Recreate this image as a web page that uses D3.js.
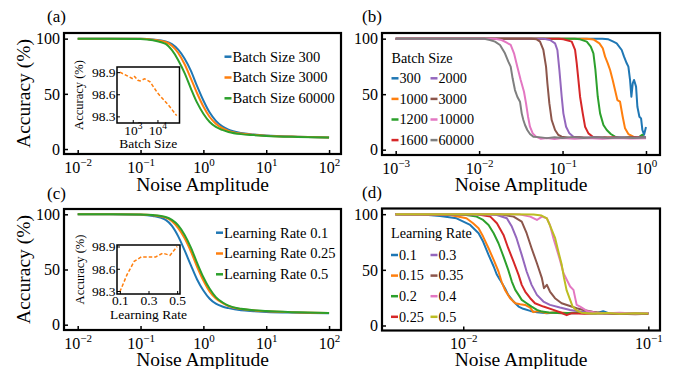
<!DOCTYPE html>
<html>
<head>
<meta charset="utf-8">
<script src="https://cdn.jsdelivr.net/npm/d3@7"></script>
<style>
  body { margin: 0; background: #fff; }
  svg, svg text { font-family: "Liberation Serif", "Times New Roman", serif; }
</style>
</head>
<body>
<svg id="fig" width="675" height="369"></svg>
<script>
// matplotlib tab10 colours
const palette = ["#1f77b4", "#ff7f0e", "#2ca02c", "#d62728", "#9467bd", "#8c564b", "#e377c2", "#7f7f7f", "#bcbd22"];

// ---------- (a) accuracy vs noise for three batch sizes ----------
const noiseGrid = [0.01, 0.0316, 0.1, 0.158, 0.251, 0.316, 0.398, 0.501, 0.631, 0.794, 1, 1.26, 1.58, 2, 2.51, 3.98, 6.31, 10, 31.6, 100];
const batchLabelsA = ["Batch Size 300", "Batch Size 3000", "Batch Size 60000"];
const accBatch300   = [100, 100, 99.8, 99.2, 97.5, 95, 90, 82, 71, 57, 44, 33, 25.5, 20.5, 17.5, 14.5, 13.2, 12.3, 11.2, 10.5];
const accBatch3000  = [100, 100, 99.8, 99, 97, 93.5, 87, 77, 64, 50.5, 38.5, 29, 23, 19, 16.5, 14, 12.9, 12.1, 11.1, 10.5];
const accBatch60000 = [100, 100, 99.6, 98.5, 95.2, 89.5, 80.5, 69, 55, 42, 32, 24.5, 20, 17.3, 15.5, 13.5, 12.6, 11.9, 11, 10.5];

// inset (a): clean accuracy vs batch size
const insetBatch = [300, 600, 1000, 1200, 1600, 2000, 3000, 5000, 10000, 30000, 60000];
const insetBatchAcc = [98.90, 98.85, 98.81, 98.84, 98.79, 98.78, 98.81, 98.77, 98.62, 98.44, 98.31];

// ---------- (c) accuracy vs noise for three learning rates ----------
const lrLabelsC = ["Learning Rate 0.1", "Learning Rate 0.25", "Learning Rate 0.5"];
const accLr01  = [100, 100, 99.6, 98.5, 95, 89.5, 80, 67.5, 54, 41, 31, 23.5, 19, 16.5, 15, 13, 12.2, 11.6, 10.9, 10.4];
const accLr025 = [100, 100, 99.8, 99.1, 97, 93.8, 87.5, 78.5, 66.5, 52.5, 40, 30, 23.8, 19.7, 16.8, 14.2, 13, 12.2, 11.1, 10.5];
const accLr05  = [100, 100, 99.8, 99.3, 97.6, 95, 90, 81.5, 70, 56, 43, 32.5, 25, 20.3, 17.2, 14.4, 13.1, 12.3, 11.2, 10.5];

// inset (c): clean accuracy vs learning rate
const insetLr = [0.1, 0.15, 0.2, 0.25, 0.3, 0.35, 0.4, 0.45, 0.5];
const insetLrAcc = [98.29, 98.52, 98.70, 98.76, 98.76, 98.76, 98.81, 98.78, 98.90];

// ---------- (b) [noise amplitude, accuracy] per batch size ----------
const batchLabelsB = ["300", "1000", "1200", "1600", "2000", "3000", "10000", "60000"];
const bs300 = [[0.001,100],[0.3,100],[0.3548,99.4],[0.4064,97.3],[0.4457,95.8],[0.5117,89.8],[0.5456,83.8],[0.5875,77.8],[0.6152,74.8],[0.6442,62.8],[0.6683,47.7],[0.6934,59.8],[0.7194,62.8],[0.7603,56.8],[0.7889,38.7],[0.8337,29.7],[0.873,28.2],[0.9057,17.7],[0.9484,13.5],[1.0,20.5]];
const bs1000 = [[0.001,100],[0.195,100],[0.2344,99.3],[0.2767,95.8],[0.3034,91.3],[0.3236,83.8],[0.3483,77.8],[0.3715,71.8],[0.399,62.8],[0.4256,53.7],[0.4539,44.7],[0.4887,43.2],[0.526,29.7],[0.561,19.2],[0.6152,14.1],[0.7063,11.7],[0.8,10.9],[0.9,11.4],[1.0,10.8]];
const bs1200 = [[0.001,100],[0.14,100],[0.1622,99.4],[0.195,97.3],[0.2178,92.8],[0.2344,86.8],[0.2477,71.8],[0.2642,47.7],[0.2818,32.7],[0.309,22.2],[0.3388,17.7],[0.3784,14.1],[0.4256,11.7],[0.5,10.8],[0.65,11.3],[0.8,10.6],[0.9,13.5],[0.95,10.8],[1.0,11.2]];
const bs1600 = [[0.001,100],[0.09,100],[0.1023,99.4],[0.1288,97.3],[0.1413,89.8],[0.1479,77.8],[0.1549,62.8],[0.1622,47.7],[0.1746,32.7],[0.1862,20.7],[0.2042,14.7],[0.2301,11.7],[0.3,10.6],[0.4,11.2],[0.55,10.5],[0.75,11.1],[1.0,10.7]];
const bs2000 = [[0.001,100],[0.06,100],[0.0708,98.8],[0.0813,95.8],[0.0867,89.8],[0.0916,71.8],[0.0977,47.7],[0.1023,32.7],[0.1102,20.7],[0.1208,14.7],[0.1349,11.7],[0.18,10.8],[0.25,11.3],[0.35,10.6],[0.5,11.2],[0.7,10.7],[1.0,11.1]];
const bs3000 = [[0.001,100],[0.042,100],[0.049,99.4],[0.0537,97.3],[0.0589,89.8],[0.0634,74.8],[0.0658,59.8],[0.0695,41.7],[0.0741,26.7],[0.0813,17.7],[0.0891,13.2],[0.0977,11.7],[0.12,10.7],[0.16,11.2],[0.22,10.5],[0.32,11.1],[0.45,10.4],[0.65,11.0],[1.0,10.6]];
const bs10000 = [[0.001,100],[0.0155,100],[0.0186,98.8],[0.0214,96.4],[0.0239,94.3],[0.0262,86.8],[0.0287,74.8],[0.0315,62.8],[0.0345,52.2],[0.0365,41.7],[0.0386,29.7],[0.0407,20.7],[0.0439,14.7],[0.0481,11.7],[0.055,9.8],[0.065,10.5],[0.08,9.6],[0.1,10.4],[0.14,9.9],[0.2,10.6],[0.3,9.8],[0.45,10.5],[0.65,10.0],[1.0,10.4]];
const bs60000 = [[0.001,100],[0.0115,100],[0.0135,98.8],[0.0155,97.3],[0.0178,94.3],[0.0204,86.8],[0.0224,79.3],[0.0239,74.8],[0.0252,64.3],[0.0269,53.7],[0.0287,47.7],[0.0309,43.2],[0.0324,32.7],[0.0339,26.7],[0.0355,22.2],[0.0378,17.7],[0.0407,14.1],[0.0447,11.7],[0.052,11.3],[0.065,10.4],[0.08,11.2],[0.1,10.6],[0.13,11.3],[0.18,10.5],[0.25,11.1],[0.35,10.4],[0.5,11.0],[0.7,10.5],[1.0,11.0]];

// ---------- (d) [noise amplitude, accuracy] per learning rate ----------
const lrLabelsD = ["0.1", "0.15", "0.2", "0.25", "0.3", "0.35", "0.4", "0.5"];
const lr01 = [[0.0043,100],[0.006,99.8],[0.0075,98.4],[0.0092,96.3],[0.0109,90.3],[0.0121,82.9],[0.0128,75.4],[0.0137,63.4],[0.0146,53],[0.0152,45.5],[0.0158,41],[0.0168,33.5],[0.0175,27.5],[0.0187,21.5],[0.0199,17],[0.0211,15],[0.023,13.1],[0.025,11.9],[0.0283,11.1],[0.032,11.6],[0.037,10.8],[0.045,11.4],[0.052,10.9],[0.057,12.8],[0.061,11],[0.07,11.3],[0.085,10.7],[0.1,11.2]];
const lr015 = [[0.0043,100],[0.0085,99.3],[0.0104,96.3],[0.0113,91.8],[0.0121,87.4],[0.0128,79.9],[0.0137,69.4],[0.0146,58.9],[0.0155,48.5],[0.0161,39.5],[0.0168,32],[0.0179,24.5],[0.0191,20],[0.0203,19.1],[0.0216,18.5],[0.023,16.1],[0.0239,12],[0.0255,13.1],[0.028,11.3],[0.032,11.8],[0.038,10.9],[0.047,11.4],[0.058,10.8],[0.072,11.3],[0.086,10.6],[0.1,11.1]];
const lr02 = [[0.0043,100],[0.0085,99.9],[0.0104,99.3],[0.0118,97.8],[0.0128,94.8],[0.0137,90.3],[0.0146,82.9],[0.0155,73.9],[0.0165,61.9],[0.0175,50],[0.0183,39.5],[0.0191,32],[0.0199,27.5],[0.0207,23],[0.022,20],[0.0234,17],[0.025,14],[0.0266,12.5],[0.029,11.6],[0.034,11],[0.04,11.5],[0.05,10.8],[0.062,11.3],[0.078,10.7],[0.1,11.0]];
const lr025 = [[0.0043,100],[0.0118,99.9],[0.014,97.8],[0.0152,91.8],[0.0165,81.4],[0.0175,69.4],[0.0187,57.4],[0.0199,45.5],[0.0207,36.5],[0.0216,30.5],[0.023,24.5],[0.0244,20],[0.0271,17],[0.0307,14],[0.0333,11.9],[0.0362,9.3],[0.0386,11.1],[0.045,10.6],[0.055,11.2],[0.068,10.5],[0.082,11.0],[0.1,10.4]];
const lr03 = [[0.0043,100],[0.013,99.9],[0.0152,99.3],[0.0172,96.3],[0.0183,88.9],[0.0194,78.4],[0.0207,63.4],[0.022,48.5],[0.0234,36.5],[0.025,27.5],[0.0271,21.5],[0.0294,18.5],[0.0333,16.1],[0.0378,14],[0.0428,12.5],[0.05,11.3],[0.06,10.7],[0.072,11.3],[0.086,10.8],[0.1,11.2]];
const lr035 = [[0.0043,100],[0.0158,99.9],[0.0187,97.8],[0.0207,93.3],[0.022,82.9],[0.0234,69.4],[0.025,55.9],[0.0266,42.5],[0.0273,33.5],[0.0283,36.5],[0.0294,30.5],[0.0313,24.5],[0.034,20],[0.037,17.9],[0.041,15.5],[0.0446,14],[0.05,12.3],[0.058,11],[0.07,10.5],[0.085,10.2],[0.1,10.6]];
const lr04 = [[0.0043,100],[0.018,99.9],[0.0203,99.6],[0.023,97.8],[0.025,94.8],[0.0266,97.8],[0.0283,96.3],[0.0294,90.3],[0.0307,78.4],[0.0333,58.9],[0.0348,47],[0.0378,35],[0.0394,32],[0.041,18.5],[0.0428,17],[0.0465,13.1],[0.052,11.5],[0.06,10.9],[0.07,11.4],[0.085,10.8],[0.1,11.2]];
const lr05 = [[0.0043,100],[0.024,99.8],[0.0265,98.8],[0.0283,96.3],[0.0294,90],[0.0313,79],[0.0327,66],[0.034,55],[0.035,43],[0.0362,31.5],[0.0378,23],[0.039,17],[0.041,13.5],[0.0435,11.5],[0.05,10.8],[0.06,11.2],[0.07,10.6],[0.085,11.0],[0.1,10.7]];

const accTicks = [0, 50, 100];

// ---------------------------------------------------------------
const SERIF = "'Liberation Serif', 'Times New Roman', serif";
const svg = d3.select("#fig").style("font-family", SERIF);

function supLabels(sel) {
  sel.each(function (d) {
    const t = d3.select(this);
    const e = Math.round(Math.log10(d));
    t.text(null);
    t.append("tspan").text("10");
    t.append("tspan").attr("dy", -7).attr("font-size", 11)
      .text(e < 0 ? "\u2212" + (-e) : String(e));
  });
}

function styleAxis(g, size) {
  g.select(".domain").remove();
  g.attr("font-size", size).style("font-family", SERIF);
  g.selectAll("text").style("font-family", SERIF);
}

function panel(cfg) {
  const { fx, fy, fw, fh } = cfg;
  const g = svg.append("g");
  const x = d3.scaleLog().domain(cfg.xDomain).range([fx, fx + fw]);
  const y = d3.scaleLinear().domain(cfg.yDomain).range([fy + fh, fy]);

  const clipId = "clip-" + cfg.tag.replace(/\W/g, "");
  svg.append("clipPath").attr("id", clipId)
    .append("rect").attr("x", fx).attr("y", fy).attr("width", fw).attr("height", fh);

  const line = d3.line().x(d => x(d[0])).y(d => y(d[1])).curve(cfg.curve || d3.curveLinear);
  const lines = g.append("g").attr("clip-path", `url(#${clipId})`);
  cfg.series.forEach(s => {
    lines.append("path").datum(s.data)
      .attr("fill", "none").attr("stroke", s.color)
      .attr("stroke-width", 2).attr("stroke-linejoin", "round")
      .attr("d", line);
  });

  // bottom axis, ticks pointing inward
  const gx = g.append("g").attr("transform", `translate(0,${fy + fh})`)
    .call(d3.axisBottom(x).tickValues(cfg.xTicks).tickSizeInner(-4).tickSizeOuter(0));
  styleAxis(gx, 16);
  gx.selectAll(".tick line").attr("stroke-width", 1.5);
  gx.selectAll(".tick text").attr("dy", null).attr("y", 18.5).call(supLabels);

  // left axis
  const gy = g.append("g").attr("transform", `translate(${fx},0)`)
    .call(d3.axisLeft(y).tickValues(accTicks).tickSizeInner(-4).tickSizeOuter(0).tickPadding(4));
  styleAxis(gy, 16);
  gy.selectAll(".tick line").attr("stroke-width", 1.5);
  gy.selectAll(".tick text").attr("dy", "0.33em");

  // frame
  g.append("rect").attr("x", fx).attr("y", fy).attr("width", fw).attr("height", fh)
    .attr("fill", "none").attr("stroke", "#000").attr("stroke-width", 2.2);

  // labels
  g.append("text").attr("x", cfg.tagX).attr("y", cfg.tagY)
    .attr("font-size", 17).text(cfg.tag);
  g.append("text").attr("x", fx + fw / 2).attr("y", cfg.xLabelY)
    .attr("text-anchor", "middle").attr("font-size", 19.5).text("Noise Amplitude");
  if (cfg.yLabel) {
    g.append("text")
      .attr("transform", `translate(30,${fy + fh / 2}) rotate(-90)`)
      .attr("text-anchor", "middle").attr("font-size", 19.5).text("Accuracy (%)");
  }
  return { g, x, y };
}

function legendRows(g, items, x0, yRows, fontSize) {
  items.forEach((it, i) => {
    const yy = yRows[i];
    g.append("line").attr("x1", x0).attr("x2", x0 + 7).attr("y1", yy).attr("y2", yy)
      .attr("stroke", it.color).attr("stroke-width", 2.5);
    g.append("text").attr("x", x0 + 8).attr("y", yy).attr("dy", "0.34em")
      .attr("font-size", fontSize).text(it.label);
  });
}

function inset(g, cfg) {
  const { ix, iy, iw, ih } = cfg;
  const x = cfg.xScale.range([ix, ix + iw]);
  const y = d3.scaleLinear().domain(cfg.yDomain).range([iy + ih, iy]);
  g.append("rect").attr("x", ix).attr("y", iy).attr("width", iw).attr("height", ih)
    .attr("fill", "#fff");
  const line = d3.line().x((d, i) => x(cfg.xs[i])).y(d => y(d));
  g.append("path").datum(cfg.ys).attr("fill", "none").attr("stroke", palette[1])
    .attr("stroke-width", 1.5).attr("stroke-dasharray", "3.5,2").attr("d", line);

  const gx = g.append("g").attr("transform", `translate(0,${iy + ih})`)
    .call(d3.axisBottom(x).tickValues(cfg.xTicks).tickSizeInner(-3).tickSizeOuter(0));
  styleAxis(gx, 13.5);
  gx.selectAll(".tick line").attr("stroke-width", 1);
  const tx = gx.selectAll(".tick text").attr("dy", null).attr("y", cfg.xTickY);
  if (cfg.logX) {
    tx.each(function (d) {
      const t = d3.select(this);
      const e = Math.round(Math.log10(d));
      t.text(null);
      t.append("tspan").text("10");
      t.append("tspan").attr("dy", -6).attr("font-size", 9.5).text(String(e));
    });
  } else {
    tx.text(d => d3.format(".1f")(d));
  }

  const gy = g.append("g").attr("transform", `translate(${ix},0)`)
    .call(d3.axisLeft(y).tickValues(cfg.yTicks).tickSizeInner(-3).tickSizeOuter(0).tickPadding(1.5)
      .tickFormat(d3.format(".1f")));
  styleAxis(gy, 13.5);
  gy.selectAll(".tick line").attr("stroke-width", 1);
  gy.selectAll(".tick text").attr("dy", "0.33em");

  g.append("rect").attr("x", ix).attr("y", iy).attr("width", iw).attr("height", ih)
    .attr("fill", "none").attr("stroke", "#000").attr("stroke-width", 1.5);

  g.append("text").attr("x", ix + iw / 2).attr("y", cfg.xLabelY)
    .attr("text-anchor", "middle").attr("font-size", 13.5).text(cfg.xLabel);
  g.append("text")
    .attr("transform", `translate(${cfg.yLabelX},${iy + ih / 2}) rotate(-90)`)
    .attr("text-anchor", "middle").attr("font-size", 12.5).text("Accuracy (%)");
}

// ---------------- (a) ----------------
const pa = panel({
  tag: "(a)", tagX: 47, tagY: 22, fx: 64, fy: 33, fw: 277, fh: 121,
  xDomain: [Math.pow(10, -2.218), Math.pow(10, 2.19)], yDomain: [-4.5, 105.1],
  xTicks: [0.01, 0.1, 1, 10, 100], xLabelY: 191, yLabel: true,
  curve: d3.curveMonotoneX,
  series: [
    { color: palette[0], data: noiseGrid.map((v, i) => [v, accBatch300[i]]) },
    { color: palette[1], data: noiseGrid.map((v, i) => [v, accBatch3000[i]]) },
    { color: palette[2], data: noiseGrid.map((v, i) => [v, accBatch60000[i]]) }
  ]
});
legendRows(pa.g, batchLabelsA.map((l, i) => ({ label: l, color: palette[i] })),
  224.5, [56.7, 77.5, 98.3], 14.5);
inset(pa.g, {
  ix: 117, iy: 67, iw: 62.5, ih: 56,
  xScale: d3.scaleLog().domain([Math.pow(10, 2.362), Math.pow(10, 4.893)]),
  xs: insetBatch, ys: insetBatchAcc, logX: true,
  xTicks: [1000, 10000], yTicks: [98.3, 98.6, 98.9], yDomain: [98.21, 98.97],
  xTickY: 12, xLabelY: 148, xLabel: "Batch Size", yLabelX: 83
});

// ---------------- (b) ----------------
const bSeries = [bs300, bs1000, bs1200, bs1600, bs2000, bs3000, bs10000, bs60000];
const pb = panel({
  tag: "(b)", tagX: 362, tagY: 22, fx: 382, fy: 33, fw: 278, fh: 122,
  xDomain: [Math.pow(10, -3.164), Math.pow(10, 0.168)], yDomain: [-4.8, 105.1],
  xTicks: [0.001, 0.01, 0.1, 1], xLabelY: 191, yLabel: false,
  series: bSeries.map((d, i) => ({ color: palette[i], data: d }))
});
const bRows = [78.3, 98.9, 119.5, 140.1];
pb.g.append("text").attr("x", 391.5).attr("y", 57.7).attr("dy", "0.34em")
  .attr("font-size", 14.2).text("Batch Size");
legendRows(pb.g, batchLabelsB.slice(0, 4).map((l, i) => ({ label: l, color: palette[i] })),
  391.5, bRows, 14.2);
legendRows(pb.g, batchLabelsB.slice(4).map((l, i) => ({ label: l, color: palette[i + 4] })),
  430.5, bRows, 14.2);

// ---------------- (c) ----------------
const pc = panel({
  tag: "(c)", tagX: 47, tagY: 199, fx: 64, fy: 209, fw: 277, fh: 121,
  xDomain: [Math.pow(10, -2.218), Math.pow(10, 2.19)], yDomain: [-4.8, 104.8],
  xTicks: [0.01, 0.1, 1, 10, 100], xLabelY: 366, yLabel: true,
  curve: d3.curveMonotoneX,
  series: [
    { color: palette[0], data: noiseGrid.map((v, i) => [v, accLr01[i]]) },
    { color: palette[1], data: noiseGrid.map((v, i) => [v, accLr025[i]]) },
    { color: palette[2], data: noiseGrid.map((v, i) => [v, accLr05[i]]) }
  ]
});
legendRows(pc.g, lrLabelsC.map((l, i) => ({ label: l, color: palette[i] })),
  216, [232.7, 253.5, 274.3], 14.5);
inset(pc.g, {
  ix: 117, iy: 245, iw: 63, ih: 49,
  xScale: d3.scaleLinear().domain([0.08, 0.52]),
  xs: insetLr, ys: insetLrAcc, logX: false,
  xTicks: [0.1, 0.3, 0.5], yTicks: [98.3, 98.6, 98.9], yDomain: [98.26, 98.92],
  xTickY: 10.5, xLabelY: 318.5, xLabel: "Learning Rate", yLabelX: 84
});

// ---------------- (d) ----------------
const dSeries = [lr01, lr015, lr02, lr025, lr03, lr035, lr04, lr05];
const dColors = [0, 1, 2, 3, 4, 5, 6, 8].map(i => palette[i]);
const pd = panel({
  tag: "(d)", tagX: 362, tagY: 198, fx: 382, fy: 208.5, fw: 278, fh: 122,
  xDomain: [Math.pow(10, -2.439), Math.pow(10, -0.937)], yDomain: [-4.5, 105.1],
  xTicks: [0.01, 0.1], xLabelY: 366, yLabel: false,
  series: dSeries.map((d, i) => ({ color: dColors[i], data: d }))
});
const dRows = [255, 275.6, 296.2, 316.8];
pd.g.append("text").attr("x", 391).attr("y", 233.3).attr("dy", "0.34em")
  .attr("font-size", 14.2).text("Learning Rate");
legendRows(pd.g, lrLabelsD.slice(0, 4).map((l, i) => ({ label: l, color: dColors[i] })),
  391, dRows, 14.2);
legendRows(pd.g, lrLabelsD.slice(4).map((l, i) => ({ label: l, color: dColors[i + 4] })),
  430.5, dRows, 14.2);
</script>
</body>
</html>
